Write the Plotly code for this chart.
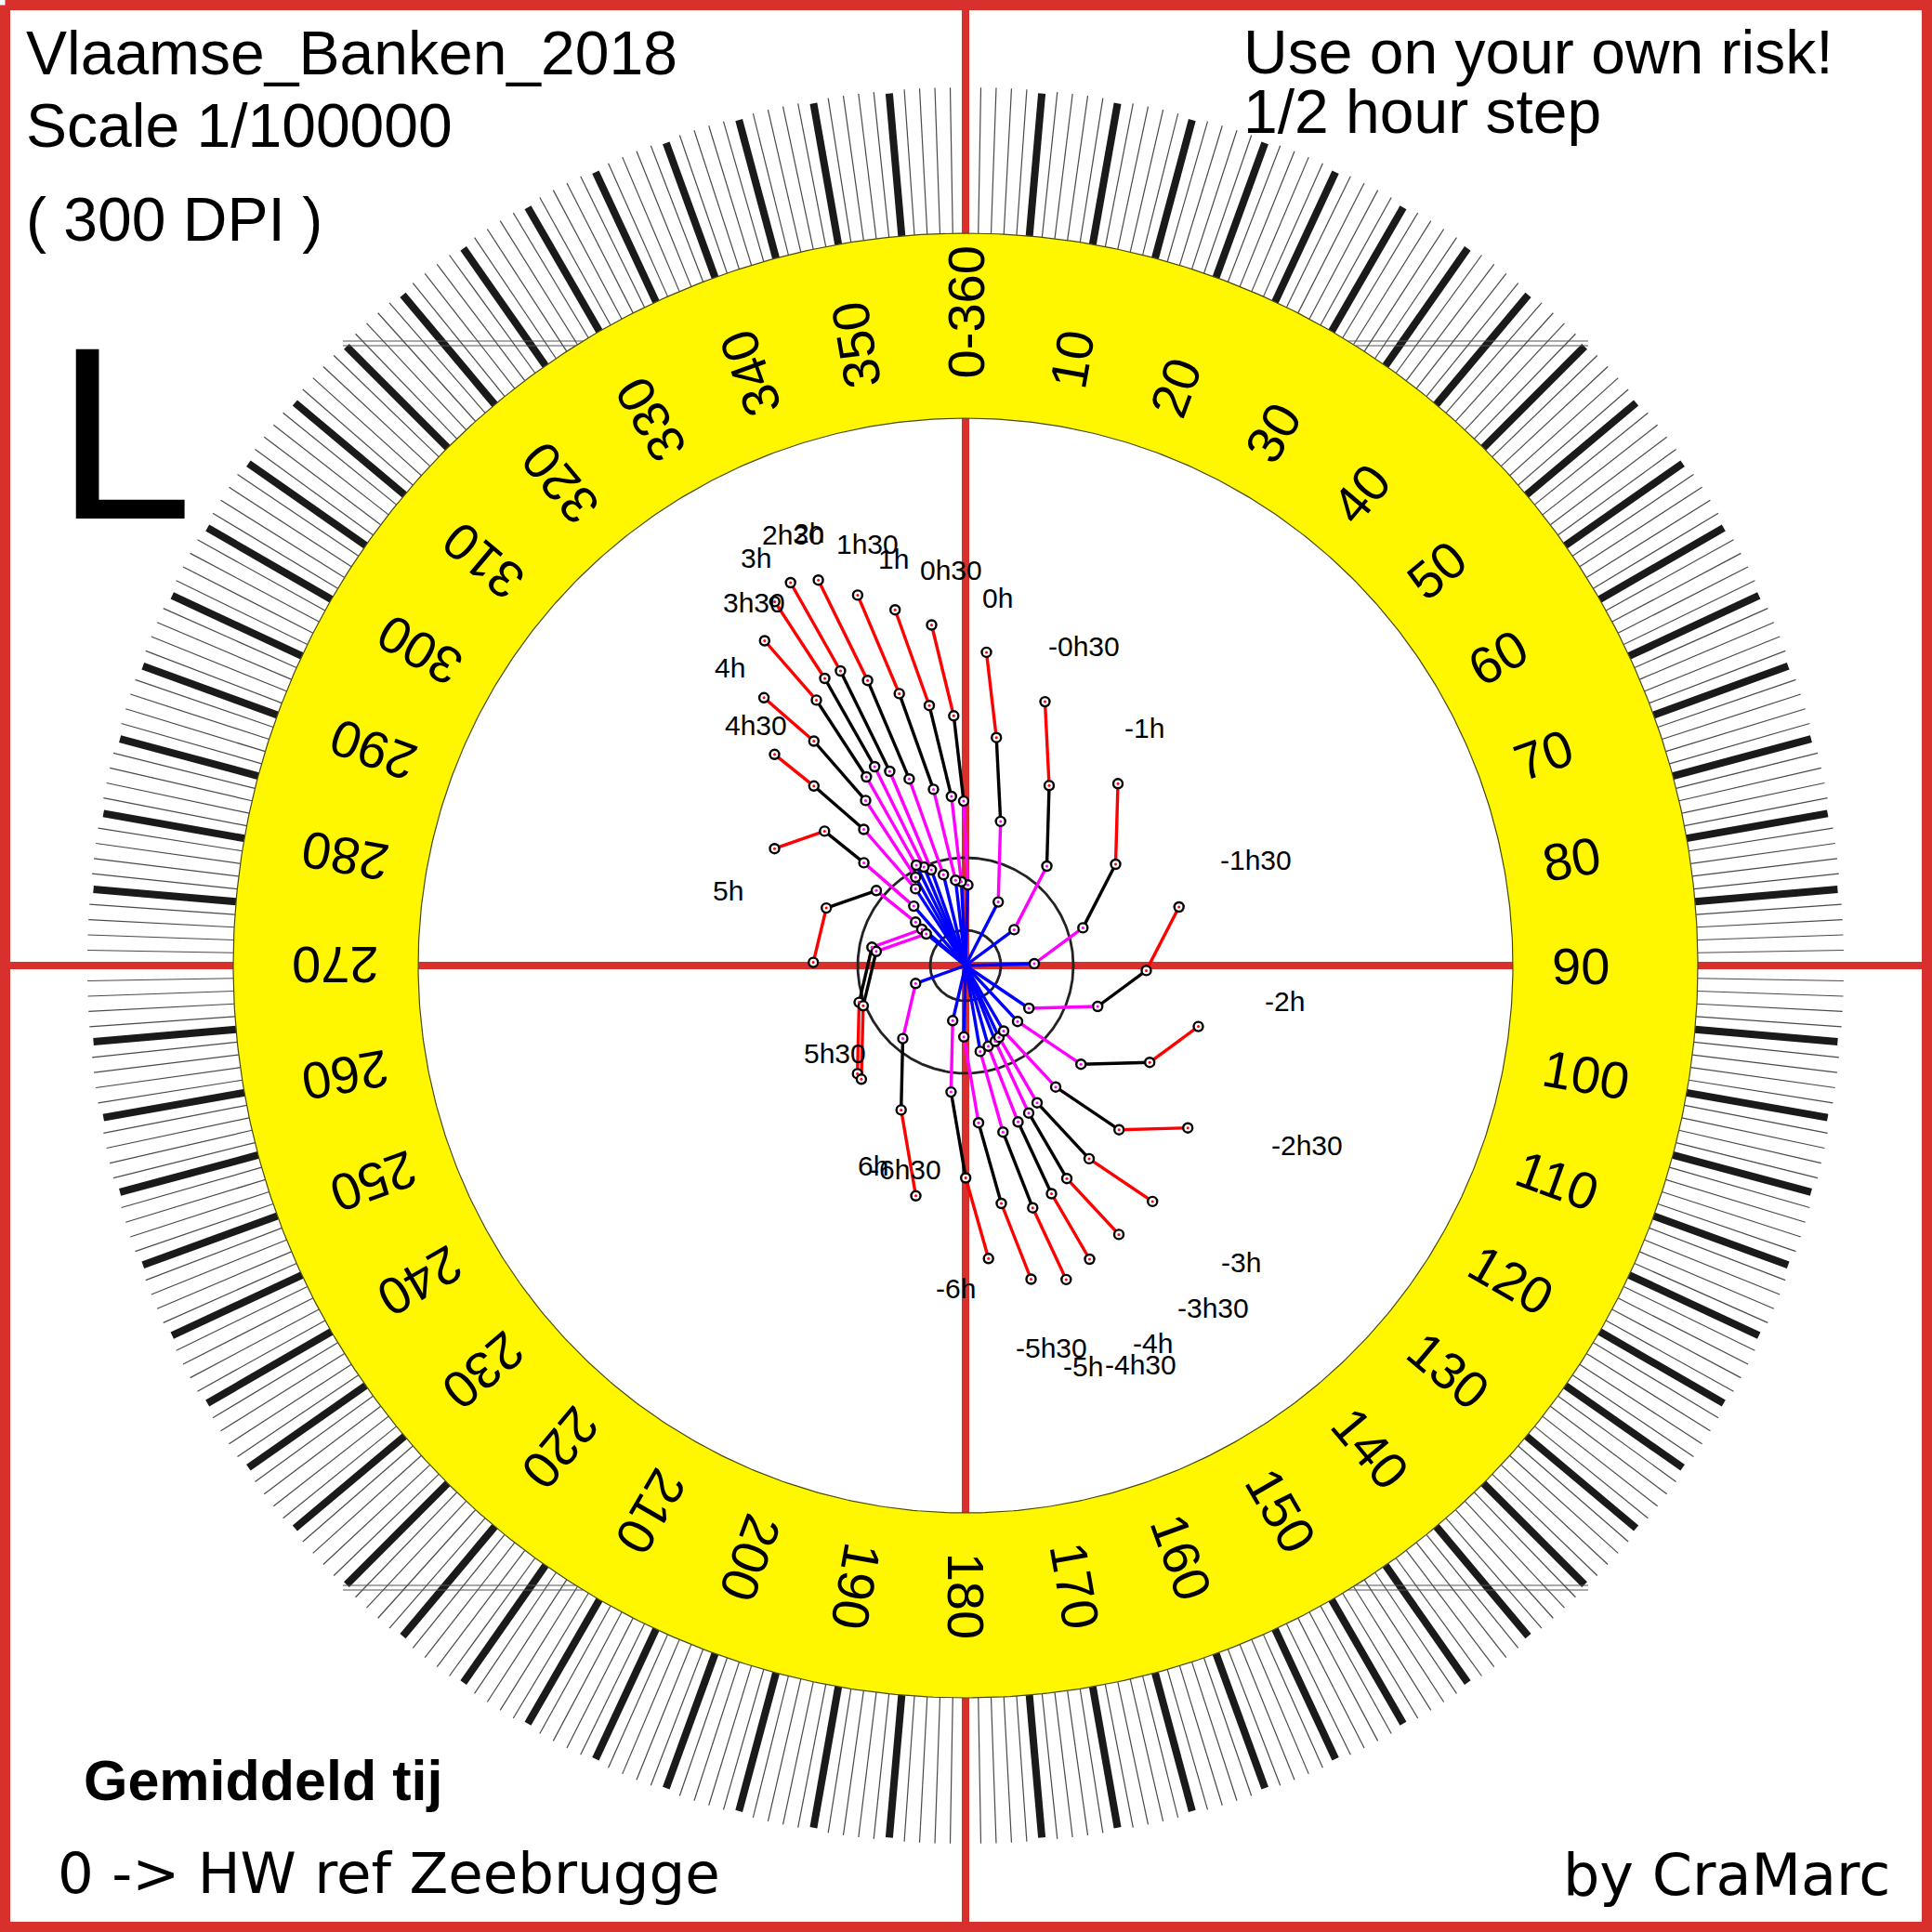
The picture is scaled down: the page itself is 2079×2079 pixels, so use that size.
import numpy as np
import plotly.graph_objects as go

# ---------------- data ----------------
# half-hour drift vectors (east, north) in chart units (1 unit = 1 px at 300 DPI, scale 1/100000)
drift_times = ["-6h30", "-6h", "-5h30", "-5h", "-4h30", "-4h", "-3h30", "-3h", "-2h30",
               "-2h", "-1h30", "-1h", "-0h30", "0h", "0h30", "1h", "1h30", "2h", "2h30",
               "3h", "3h30", "4h", "4h30", "5h", "5h30", "6h", "6h30", "7h", "7h30"]
drift_east = [-47.0, -53.7, -13.8, -1.8, 15.8, 24.5, 32.0, 36.0, 41.0,
              56.0, 68.2, 74.0, 52.3, 35.2, 2.5, -4.5, -10.7, -23.8, -36.8,
              -44.8, -53.0, -53.7, -53.8, -55.7, -53.7, -42.3, -53.8, -14.0, -2.0]
drift_north = [39.0, -19.3, -59.3, -76.8, -92.4, -86.8, -81.5, -77.2, -70.5,
               -60.2, -46.0, 2.0, 38.6, 68.4, 86.7, 90.2, 91.8, 97.8, 103.0,
               106.0, 108.0, 95.0, 82.6, 63.9, 46.7, 34.0, -18.8, -58.5, -79.0]

# one progressive-vector chain per half hour, from -6h30 to 6h (4 half-hour steps each)
chain_times = drift_times[:26]
steps_per_chain = 4

# hour label positions (east, north), same units
label_east = [-64.7, -10.7, 92.7, 126.0, 188.7, 201.7, 266.7, 296.7, 367.8,
              343.3, 312.7, 192.7, 127.7, 34.3, -15.7, -77.3, -105.7, -169.0, -185.7,
              -225.7, -227.3, -254.0, -225.7, -255.7, -140.7, -100.0]
label_north = [-219.3, -347.7, -411.0, -431.0, -429.3, -406.0, -368.3, -319.3, -193.4,
               -38.3, 114.0, 255.7, 344.0, 395.7, 425.7, 437.3, 454.0, 465.7, 464.0,
               439.0, 390.7, 320.7, 259.0, 80.7, -94.3, -215.0]

ring_degrees = list(range(0, 360, 10))
ring_texts = ["0-360" if d == 0 else str(d) for d in ring_degrees]
speed_circle_radii = [38, 116]

# ---------------- geometry / style ----------------
W = 2079
CX, CY = 1039, 1039
R_TICK_OUT = 945
R_TICK_BOLD = 942
R_RING_OUT = 788
R_RING_IN = 589
R_TEXT_START = 631
RED = "#d8302c"
FONT = "Liberation Sans, Arial, sans-serif"


def X(px):
    return px - CX


def Y(py):
    return CY - py


def polar(r, deg):
    t = np.radians(deg)
    return r * np.sin(t), r * np.cos(t)


traces = []

# thin 1-degree ticks
tx, ty = [], []
for d in range(360):
    if d % 5 == 0:
        continue
    x0, y0 = polar(R_RING_OUT, d)
    x1, y1 = polar(R_TICK_OUT, d)
    tx += [x0, x1, None]
    ty += [y0, y1, None]
traces.append(go.Scatter(x=tx, y=ty, mode="lines", line=dict(color="#4a4a4a", width=1.2),
                         hoverinfo="skip"))
# bold 5-degree ticks
tx, ty = [], []
for d in range(0, 360, 5):
    x0, y0 = polar(R_RING_OUT, d)
    x1, y1 = polar(R_TICK_BOLD, d)
    tx += [x0, x1, None]
    ty += [y0, y1, None]
traces.append(go.Scatter(x=tx, y=ty, mode="lines", line=dict(color="#1a1a1a", width=8),
                         hoverinfo="skip"))

# thin horizontal corner lines
cx_, cy_ = [], []
for sx in (-1, 1):
    for sy in (-1, 1):
        for yy in (672, 667):
            xe = np.sqrt(R_RING_OUT ** 2 - yy ** 2)
            cx_ += [sx * 670, sx * xe, None]
            cy_ += [sy * yy, sy * yy, None]
traces.append(go.Scatter(x=cx_, y=cy_, mode="lines", line=dict(color="#555555", width=1.2),
                         hoverinfo="skip"))

# red cross
traces.append(go.Scatter(x=[0, 0, None, X(0), X(W)], y=[Y(0), Y(W), None, 0, 0], mode="lines",
                         line=dict(color=RED, width=8), hoverinfo="skip"))

# yellow annulus
th = np.linspace(0, 360, 721)
ox, oy = polar(R_RING_OUT, th)
ix, iy = polar(R_RING_IN, th[::-1])
traces.append(go.Scatter(x=np.concatenate([ox, ix]), y=np.concatenate([oy, iy]), mode="lines",
                         fill="toself", fillcolor="#fff700", line=dict(width=0, color="#fff700"),
                         hoverinfo="skip"))
for r in (R_RING_OUT, R_RING_IN):
    cxr, cyr = polar(r, th)
    traces.append(go.Scatter(x=cxr, y=cyr, mode="lines", line=dict(color="#4a4a10", width=1.2),
                             hoverinfo="skip"))

# speed circles
for r in speed_circle_radii:
    cxr, cyr = polar(r, th)
    traces.append(go.Scatter(x=cxr, y=cyr, mode="lines", line=dict(color="#222222", width=2.8),
                             hoverinfo="skip"))

# chains
seg_colors = ["#0000ff", "#ff00ff", "#000000", "#ff0000"]
seg_x = [[] for _ in range(4)]
seg_y = [[] for _ in range(4)]
pts_x = [[] for _ in range(4)]
pts_y = [[] for _ in range(4)]
for i in range(len(chain_times)):
    px, py = 0.0, 0.0
    for s in range(steps_per_chain):
        nx = px + drift_east[i + s]
        ny = py + drift_north[i + s]
        seg_x[s] += [px, nx, None]
        seg_y[s] += [py, ny, None]
        pts_x[s].append(nx)
        pts_y[s].append(ny)
        px, py = nx, ny
for s in range(4):
    traces.append(go.Scatter(x=seg_x[s], y=seg_y[s], mode="lines",
                             line=dict(color=seg_colors[s], width=3.4), hoverinfo="skip"))
dot_colors = ["#ff00ff", "#ff00ff", "#ff0000", "#ff0000"]
for s in range(4):
    traces.append(go.Scatter(x=pts_x[s], y=pts_y[s], mode="markers",
                             marker=dict(symbol="circle", size=10, color="white",
                                         line=dict(color="black", width=2.4)),
                             hoverinfo="skip"))
    traces.append(go.Scatter(x=pts_x[s], y=pts_y[s], mode="markers",
                             marker=dict(symbol="circle", size=3, color=dot_colors[s]),
                             hoverinfo="skip"))

# frame
b = 5.5
traces.append(go.Scatter(x=[X(b), X(W - b), X(W - b), X(b), X(b)],
                         y=[Y(b), Y(b), Y(W - b), Y(W - b), Y(b)], mode="lines",
                         line=dict(color=RED, width=11), hoverinfo="skip"))

fig = go.Figure(traces)

ann = []
# ring labels
RING_FS = 56
for d, t in zip(ring_degrees, ring_texts):
    em = sum(0.333 if c == "-" else 0.556 for c in t)
    rc = R_TEXT_START + em * RING_FS / 2
    x, y = polar(rc, d)
    ang = d - 90
    if ang > 180:
        ang -= 360
    ann.append(dict(x=x, y=y, text=t, showarrow=False, textangle=ang, xanchor="center",
                    yanchor="middle", font=dict(family=FONT, size=RING_FS, color="black")))

# hour labels
for t, e, n in zip(chain_times, label_east, label_north):
    ann.append(dict(x=e, y=n, text=t, showarrow=False, xanchor="center", yanchor="middle",
                    font=dict(family=FONT, size=30, color="black")))


def txt(text, px, py, size, anchor="left", family=FONT, bold=False):
    if bold:
        text = "<b>" + text + "</b>"
    ann.append(dict(x=X(px), y=Y(py), text=text, showarrow=False, xanchor=anchor,
                    yanchor="middle", font=dict(family=family, size=size, color="black")))


txt("Vlaamse_Banken_2018", 26, 57, 66)
txt("Scale 1/100000", 26, 135, 66)
txt("( 300 DPI )", 26, 236, 66)
txt("L", 58, 466, 265)
txt("Use on your own risk!", 1336, 56, 66)
txt("1/2 hour step", 1336, 120, 66)
txt("Gemiddeld tij", 88, 1916, 61, bold=True)
txt("0 -> HW ref Zeebrugge", 60, 2015, 61, family="DejaVu Sans, sans-serif")
txt("by CraMarc", 2036, 2017, 62, anchor="right", family="DejaVu Sans, sans-serif")

fig.update_layout(
    width=W, height=W, margin=dict(l=0, r=0, t=0, b=0, pad=0),
    paper_bgcolor="white", plot_bgcolor="white", showlegend=False,
    xaxis=dict(range=[X(0), X(W)], visible=False, fixedrange=True),
    yaxis=dict(range=[Y(W), Y(0)], visible=False, fixedrange=True),
    annotations=ann,
)
fig.write_html("out.html", include_plotlyjs=True, full_html=True,
               config={"displayModeBar": False},
               post_script="document.body.style.margin='0';")
